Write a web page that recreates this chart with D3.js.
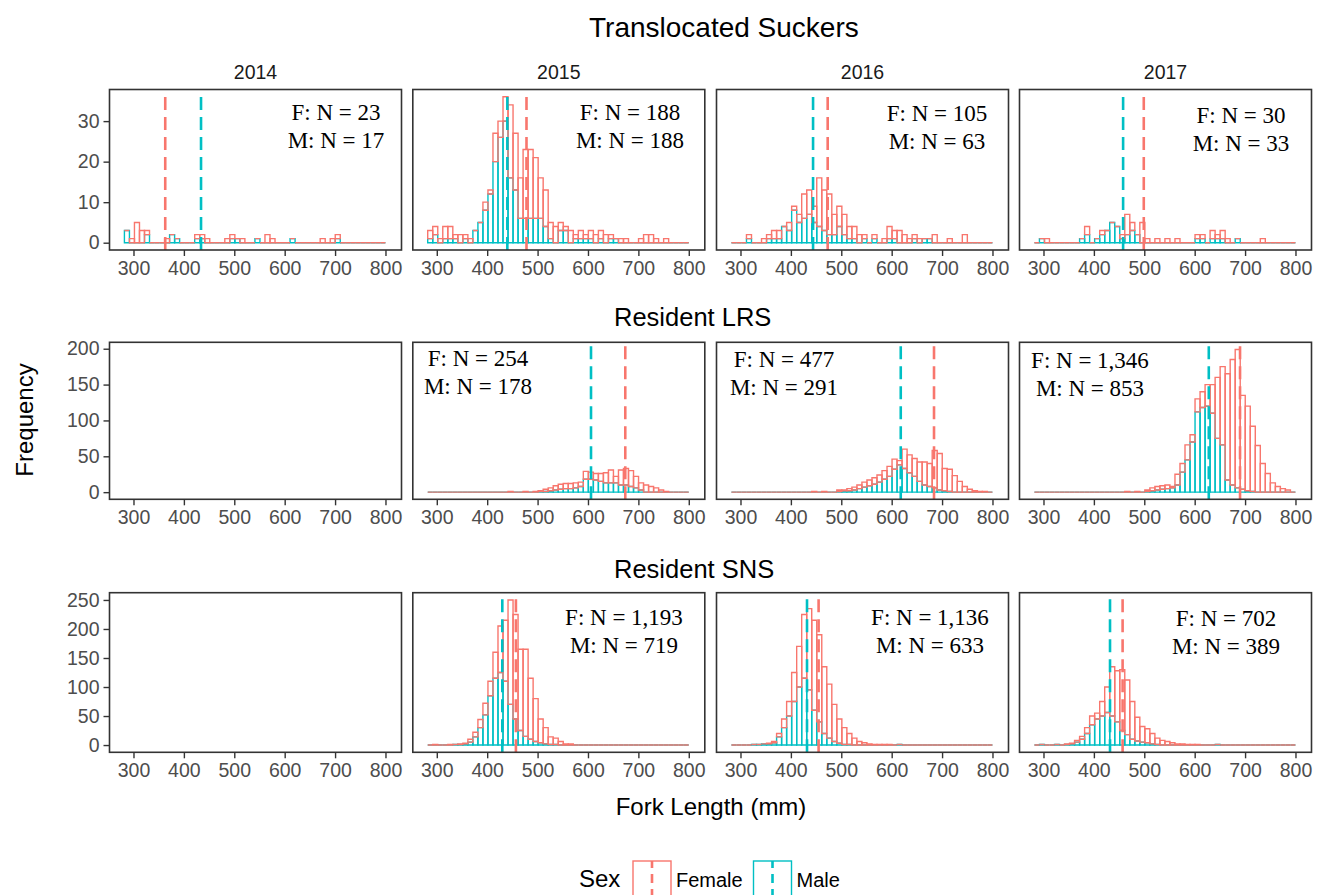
<!DOCTYPE html>
<html>
<head>
<meta charset="utf-8">
<script src="https://cdn.jsdelivr.net/npm/d3@7"></script>
<style>
  body { margin: 0; background: #fff; }
</style>
</head>
<body>
<div id="chart"></div>
<script>
// ---- data ----
var years = ["2014", "2015", "2016", "2017"];
var groups = ["Translocated Suckers", "Resident LRS", "Resident SNS"];
var xTicks = [300, 400, 500, 600, 700, 800];
var yTicks = [[0, 10, 20, 30], [0, 50, 100, 150, 200], [0, 50, 100, 150, 200, 250]];

// histogram bins: bin i covers binStart + i*binWidth .. +binWidth ; counts listed from bin 0, missing = 0
var binStart = 282, binWidth = 9.96, nBins = 52;

var ts2014F = [0,1,5,3,1,0,0,0,1,0, 0,0,0,0,1,1,1,0,0,0, 1,1,0,1,0,0,0,0,2,1, 0,0,0,0,0,0,0,0,0,1, 0,1,1];
var ts2014M = [3,0,0,0,2,0,0,0,0,2, 1,0,0,0,1,1,0,0,0,0, 0,1,1,0,0,0,1,0,0,0, 0,0,0,1,0,0,0,0,0,0, 0,0,1];
var ts2015F = [2,2,1,3,3,1,2,1,1,0, 0,2,1,7,4,6,18,14,10,17, 17,15,10,9,4,4,2,1,3,1, 2,1,2,2,2,2,1,0,1,1, 0,0,1,2,2,1,0,1];
var ts2015M = [1,2,0,1,1,1,0,1,0,3, 5,8,12,20,26,30,16,13,6,6, 6,6,6,4,1,0,3,3,0,1, 1,1,1,0,1,0,1,1];
var ts2016F = [0,0,0,1,0,0,1,1,2,2, 0,2,1,2,6,6,4,12,10,10, 5,5,5,3,3,2,1,0,1,0, 1,3,2,3,2,1,1,1,0,0, 2,0,0,1,0,0,2];
var ts2016M = [0,0,0,1,0,0,0,1,1,1, 4,3,8,5,6,7,5,4,3,2, 2,4,2,1,1,0,1,0,1,0, 0,1,1,0,0,0,1,0,1,1];
var ts2017F = [0,0,1,0,0,0,0,0,0,0, 2,0,0,1,0,0,0,1,5,2, 0,5,1,0,1,0,1,0,1,0, 0,0,1,1,0,2,1,2,1,0, 0,0,0,0,0,1];
var ts2017M = [0,1,0,0,0,0,0,0,0,1, 2,0,1,2,3,5,4,1,2,3, 2,0,0,0,0,0,0,0,0,0, 0,0,1,1,0,1,1,1,0,0, 1];

var lrs2015F = [0,0,0,0,0,0,0,0,0,0, 0,0,0,0,0,0,1,0,0,1, 0,1,1,3,4,6,7,7,7,7, 6,11,10,9,11,14,18,9,21,23, 22,16,10,10,8,6,3,1];
var lrs2015M = [0,0,0,0,0,0,0,0,0,0, 0,0,0,0,0,0,0,0,0,0, 0,0,1,1,2,3,4,5,5,6, 8,18,18,17,15,13,13,13,10,10, 8,6,3];
var lrs2016F = [0,0,0,0,0,0,0,0,0,0, 0,0,0,0,0,0,1,0,1,0, 0,2,1,3,4,5,7,8,9,10, 12,14,14,6,27,25,25,27,32,32, 52,51,31,31,23,15,8,4,2,1, 1];
var lrs2016M = [0,0,0,0,0,0,0,0,0,0, 0,0,0,0,0,0,0,0,0,0, 0,1,2,2,3,5,7,9,11,14, 18,22,32,38,33,27,22,15,10,8, 6,3,2,1];
var lrs2017F = [0,0,0,0,0,0,0,0,0,0, 0,0,0,0,0,0,0,0,1,0, 1,0,2,4,5,5,5,2,15,12, 21,10,18,22,30,40,85,109,148,175, 193,131,118,91,65,40,26,13,8,5, 3];
var lrs2017M = [0,0,0,0,0,0,0,0,0,0, 0,0,0,0,0,0,0,0,0,0, 0,0,1,2,3,4,5,6,10,28, 45,70,112,118,120,110,75,66,17,10, 6,4,2,1];

var sns2015F = [0,1,0,0,1,0,1,1,5,8, 14,20,25,45,80,105,180,180,140,150, 105,74,41,28,13,11,6,2,2];
var sns2015M = [0,0,0,0,0,1,1,2,5,14, 30,52,85,115,125,110,70,45,25,15, 10,6,4,2,1,1];
var sns2016F = [0,0,0,0,0,0,0,1,2,6, 15,25,50,70,110,140,155,150,115,93, 64,42,29,19,12,6,4,2,1,1, 1,1];
var sns2016M = [0,0,0,0,1,1,2,2,4,14, 30,50,75,100,115,95,60,40,20,12, 6,3,1,1,0,0,0,0,0,0, 0,0,0,1];
var sns2017F = [0,0,0,0,0,0,1,1,3,5, 10,15,10,25,44,85,88,105,94,65, 41,27,24,18,11,8,6,4,2,2, 1,1,1];
var sns2017M = [0,1,0,0,1,0,1,2,5,10, 20,35,45,50,56,50,40,25,18,10, 7,5,4,2,1,0,0,0,0,0, 0,0,0,0,0,0,1];

// mean fork length (dashed lines), per year; null = no panel data
var tsMeanF = [363, 478, 473, 499];
var tsMeanM = [434, 440, 444, 458];
var lrsMeanF = [null, 674, 684, 690];
var lrsMeanM = [null, 606, 618, 628];
var snsMeanF = [null, 457, 455, 457];
var snsMeanM = [null, 430, 432, 432];

// sample size labels
var tsNF = ["23", "188", "105", "30"], tsNM = ["17", "188", "63", "33"];
var lrsNF = [null, "254", "477", "1,346"], lrsNM = [null, "178", "291", "853"];
var snsNF = [null, "1,193", "1,136", "702"], snsNM = [null, "719", "633", "389"];

var colF = "#F8766D", colM = "#00BFC4";
var sans = "'Liberation Sans', Arial, sans-serif";
var serif = "'Liberation Serif', 'Times New Roman', serif";

// ---- layout ----
var W = 1327, H = 895;
var panelLeft = [109.5, 412.8, 716.5, 1019.5];
var panelW = 292;
var rows = [
  { top: 89.5, bottom: 250, F: [ts2014F, ts2015F, ts2016F, ts2017F], M: [ts2014M, ts2015M, ts2016M, ts2017M],
    meanF: tsMeanF, meanM: tsMeanM, nF: tsNF, nM: tsNM, title: {x: 589, y: 37, size: 28},
    lab: [{x: 336, y: 119.5}, {x: 630, y: 120}, {x: 937, y: 121}, {x: 1241, y: 123}] },
  { top: 342.3, bottom: 499.3, F: [null, lrs2015F, lrs2016F, lrs2017F], M: [null, lrs2015M, lrs2016M, lrs2017M],
    meanF: lrsMeanF, meanM: lrsMeanM, nF: lrsNF, nM: lrsNM, title: {x: 614, y: 326, size: 25.5},
    lab: [null, {x: 478, y: 366}, {x: 784, y: 367}, {x: 1090, y: 368}] },
  { top: 592.7, bottom: 752.3, F: [null, sns2015F, sns2016F, sns2017F], M: [null, sns2015M, sns2016M, sns2017M],
    meanF: snsMeanF, meanM: snsMeanM, nF: snsNF, nM: snsNM, title: {x: 614, y: 578, size: 25.5},
    lab: [null, {x: 624, y: 624.5}, {x: 930, y: 625}, {x: 1226, y: 625.5}] }
];

var svg = d3.select("#chart").append("svg")
  .attr("width", W).attr("height", H)
  .style("font-family", sans);

var x = d3.scaleLinear().domain([252.4, 831.8]).range([0, panelW]);

function binsOf(F, M) {
  var out = [];
  for (var i = 0; i < nBins; i++) {
    out.push({ x0: binStart + i * binWidth, x1: binStart + (i + 1) * binWidth,
               m: (M && M[i]) || 0, f: (F && F[i]) || 0 });
  }
  return out;
}

function rectPath(x0, x1, y0, y1) {
  return "M" + x0 + "," + y0 + "V" + y1 + "H" + x1 + "V" + y0 + "Z";
}

var defs = svg.append("defs");

rows.forEach(function(row, r) {
  var yMax = d3.max(row.F.map(function(F, p) {
    if (!F) return 0;
    return d3.max(binsOf(F, row.M[p]), function(b) { return b.f + b.m; });
  }));
  var pad = yMax * 0.05;
  var y = d3.scaleLinear().domain([-pad, yMax + pad]).range([row.bottom, row.top]);

  // row title
  svg.append("text")
    .attr("x", row.title.x).attr("y", row.title.y)
    .attr("font-size", row.title.size + "px").attr("fill", "#000")
    .text(groups[r]);

  years.forEach(function(yr, p) {
    var g = svg.append("g").attr("transform", "translate(" + panelLeft[p] + ",0)");
    var clipId = "clip" + r + p;
    defs.append("clipPath").attr("id", clipId)
      .append("rect").attr("x", 0).attr("y", row.top).attr("width", panelW).attr("height", row.bottom - row.top);

    var plot = g.append("g").attr("clip-path", "url(#" + clipId + ")");

    if (row.F[p]) {
      var bins = binsOf(row.F[p], row.M[p]);
      // male at the bottom of the stack
      plot.selectAll("path.male").data(bins).enter().append("path")
        .attr("class", "male")
        .attr("d", function(b) { return rectPath(x(b.x0), x(b.x1), y(0), y(b.m)); })
        .attr("fill", "none").attr("stroke", colM).attr("stroke-width", 1.4);
      // female stacked on top
      plot.selectAll("path.female").data(bins).enter().append("path")
        .attr("class", "female")
        .attr("d", function(b) { return rectPath(x(b.x0), x(b.x1), y(b.m), y(b.m + b.f)); })
        .attr("fill", "none").attr("stroke", colF).attr("stroke-width", 1.4);

      // mean lines
      [[row.meanF[p], colF], [row.meanM[p], colM]].forEach(function(v) {
        plot.append("line")
          .attr("x1", x(v[0])).attr("x2", x(v[0]))
          .attr("y1", row.bottom).attr("y2", row.top)
          .attr("stroke", v[1]).attr("stroke-width", 2.6)
          .attr("stroke-dasharray", "13,7");
      });
    }

    // border
    g.append("rect").attr("x", 0).attr("y", row.top)
      .attr("width", panelW).attr("height", row.bottom - row.top)
      .attr("fill", "none").attr("stroke", "#333").attr("stroke-width", 1.6);

    // x axis
    var xa = g.append("g").attr("transform", "translate(0," + row.bottom + ")")
      .call(d3.axisBottom(x).tickValues(xTicks).tickSize(6).tickPadding(5));
    xa.select(".domain").remove();
    xa.selectAll("line").attr("stroke", "#333").attr("stroke-width", 1.4);
    xa.selectAll("text").attr("font-size", "19.5px").attr("fill", "#4D4D4D")
      .attr("font-family", sans);

    // y axis only on the first column
    if (p === 0) {
      var ya = g.append("g").call(d3.axisLeft(y).tickValues(yTicks[r]).tickSize(6).tickPadding(4));
      ya.select(".domain").remove();
      ya.selectAll("line").attr("stroke", "#333").attr("stroke-width", 1.4);
      ya.selectAll("text").attr("font-size", "19.5px").attr("fill", "#4D4D4D")
        .attr("font-family", sans);
    }

    // strip labels only on top row
    if (r === 0) {
      g.append("text").attr("x", panelW / 2).attr("y", 79)
        .attr("text-anchor", "middle").attr("font-size", "19.5px").attr("fill", "#1A1A1A")
        .text(yr);
    }

    // N labels
    if (row.lab[p]) {
      var t = svg.append("text")
        .attr("text-anchor", "middle")
        .style("font-family", serif)
        .attr("font-size", "23px").attr("fill", "#000");
      t.append("tspan").attr("x", row.lab[p].x).attr("y", row.lab[p].y).text("F: N = " + row.nF[p]);
      t.append("tspan").attr("x", row.lab[p].x).attr("y", row.lab[p].y + 28).text("M: N = " + row.nM[p]);
    }
  });
});

// axis titles
svg.append("text")
  .attr("transform", "translate(33,420) rotate(-90)")
  .attr("text-anchor", "middle").attr("font-size", "24px").attr("fill", "#000")
  .text("Frequency");

svg.append("text")
  .attr("x", 711).attr("y", 815)
  .attr("text-anchor", "middle").attr("font-size", "24px").attr("fill", "#000")
  .text("Fork Length (mm)");

// legend
var legend = svg.append("g");
legend.append("text").attr("x", 579).attr("y", 887)
  .attr("font-size", "24px").attr("fill", "#000").text("Sex");
var keys = [{ label: "Female", col: colF, x: 633 }, { label: "Male", col: colM, x: 753.5 }];
keys.forEach(function(k) {
  legend.append("rect").attr("x", k.x).attr("y", 861).attr("width", 38).attr("height", 37)
    .attr("fill", "none").attr("stroke", k.col).attr("stroke-width", 1.4);
  legend.append("line").attr("x1", k.x + 19).attr("x2", k.x + 19)
    .attr("y1", 898).attr("y2", 861)
    .attr("stroke", k.col).attr("stroke-width", 2.6).attr("stroke-dasharray", "9,6");
  legend.append("text").attr("x", k.x + 43).attr("y", 887)
    .attr("font-size", "20px").attr("fill", "#000").text(k.label);
});
</script>
</body>
</html>
